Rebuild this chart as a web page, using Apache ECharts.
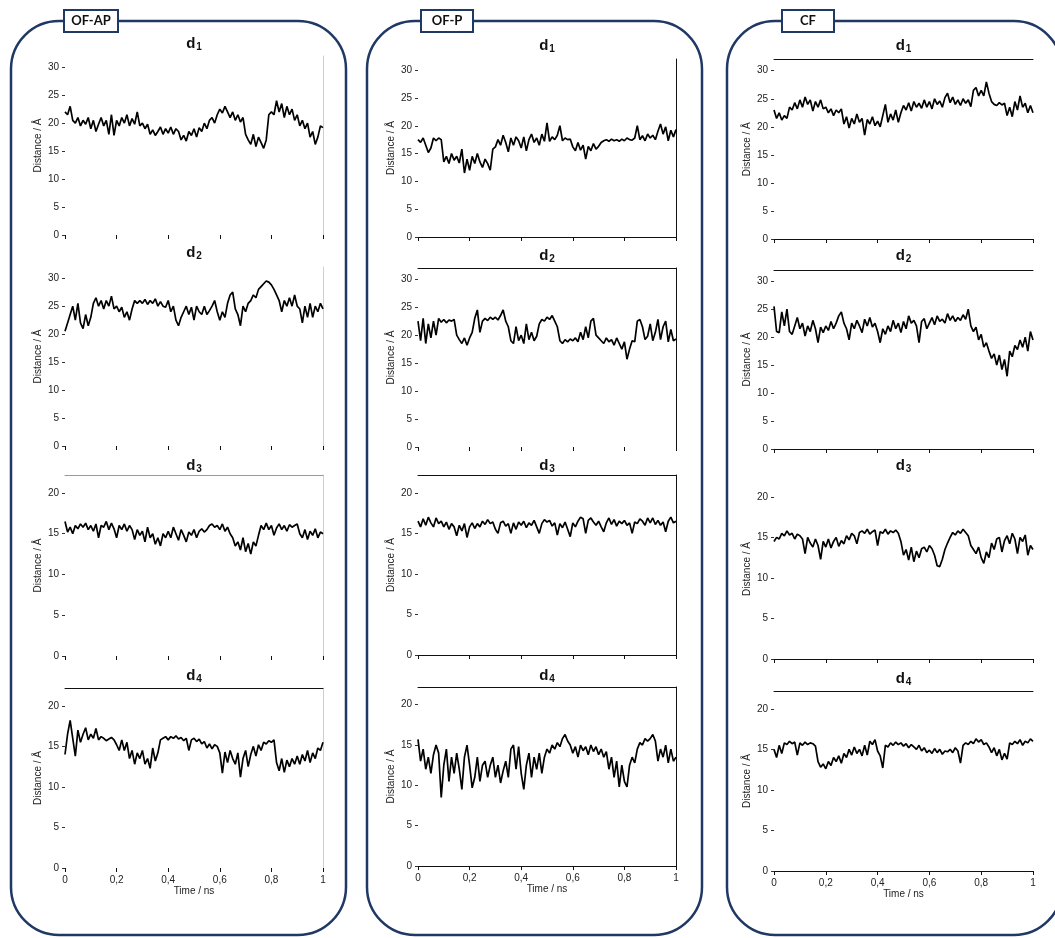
<!DOCTYPE html>
<html><head><meta charset="utf-8">
<script src="https://cdn.jsdelivr.net/npm/echarts@6/dist/echarts.min.js"></script>
<style>html,body{margin:0;padding:0;background:#fff}#c{width:1055px;height:938px}</style>
</head><body><div id="c"></div>
<script>
// ---- data (time in ns, distances in Å) ----
const TIME = Array.from({length: 101}, (_, i) => +(i / 100).toFixed(2));
const GROUPS = ['OF-AP', 'OF-P', 'CF'];
const PANEL_SUBS = ['1', '2', '3', '4'];
const X_TICKS = [0, 0.2, 0.4, 0.6, 0.8, 1];
const X_TICK_LABELS = ['0', '0,2', '0,4', '0,6', '0,8', '1'];
const Y_TICKS_30 = [0, 5, 10, 15, 20, 25, 30];
const Y_TICKS_20 = [0, 5, 10, 15, 20];

const OFAP_D1 = [22,21.5,23,20.5,20,21,19.5,20.5,19.8,21,
 19,20.5,18.5,19.8,21,19.5,20.5,18,21.5,17.8,
 20.5,19.5,21,20,21.5,19.5,20.8,19.8,22,19.5,
 20,19,19.8,18,18.8,17.8,18.5,19.3,18,19,
 18.2,19.3,18,19,18.5,17,17.8,16.8,18.5,17.8,
 19,17.5,19.2,18.5,20,19,20.5,21,20,21.5,
 22.5,21.8,23,22,21,22,20.5,21.5,20.2,21,
 18,17,16.2,18,15.8,17.5,16.5,15.5,17,21.5,
 22,21.5,24,22,23.5,21,23,21.5,22.5,20.5,
 21.5,19.5,20.5,19,20,17.5,18.5,16.2,17.5,19.5,19.2];
const OFAP_D2 = [20.5,22,23.5,25,22.5,25.5,22,21,23.5,21.5,
 23,25.5,26.5,25,26,24.5,26,25,26.8,24.5,
 25,24,24.8,23,24,22.5,24.5,26,25.5,26,
 25.5,26.2,25.3,26,25.5,26.3,25,25.8,25,24.8,
 26,24,25,22.5,21.5,23,24,25,23.5,24.8,
 22.5,25,24,23.5,25,23.5,24.2,25,26,24,
 22.5,24,23,25.5,27,27.5,24.5,23.5,21.5,25,
 24,25.5,26,27,26.5,28,28.5,29,29.5,29.3,
 28.8,28,27,26,24,26,25,26.5,25,27,
 25,24.5,22,25,23,25.5,23,25,24,25.5,24.5];
const OFAP_D3 = [16.5,15.2,15.8,15,16,15.6,16.2,15.8,16.3,15.5,
 16,15.3,16.2,14.5,16,15.8,16.5,15.5,16.3,15.6,
 14.5,16,15.5,16.2,15.3,16,15.5,14.3,15.5,14.8,
 15.3,14,15.8,14.5,15,13.7,14.5,13.5,15,14.5,
 15.3,14.5,15.8,15,14.2,15.5,14.8,14,15.2,14.8,
 15.5,14.5,15.3,15.6,15.2,15.5,16,16.2,15.8,16,
 15.5,16.2,15.3,15.8,15,14.5,13.5,14,13,14.5,
 12.8,13.8,12.5,14,13.5,14.8,16,15.5,16.3,15.5,
 16,14.8,15.7,16.2,15.5,16,15.3,16.1,15.8,16,
 16.2,15,14.5,15.5,14.3,15.3,14.8,15.6,14.5,15.2,15];
const OFAP_D4 = [14,16.5,18.2,16,13.8,17,15.5,16.5,17.3,15.8,
 16.5,16,17.2,15.8,16.2,16,15.7,15.9,16.1,15.8,
 15.2,14.5,15.8,14.5,15.5,13.5,14.5,12.8,14.2,13.5,
 14.5,12.8,13.5,12.3,14.8,13.2,14.2,15.8,16,16.2,
 15.8,16.2,16,16.3,15.9,16.1,15.7,16,14.5,15.8,
 16,15.6,15.9,15.3,15.6,14.8,15.3,14.7,15.2,15,
 14.2,11.7,14.3,13,14.5,13.5,12.8,14.2,11.2,13.5,
 14.5,12.5,14,15,13.8,15.2,14.5,15.5,15.3,15.7,
 15.5,15.8,13,12,13.5,11.8,13.3,12.5,13.5,12.8,
 13.8,12.8,14,13.2,14.5,13,14.2,13.5,14.8,14.5,15.5];

const OFP_D1 = [17.5,17,17.8,16.5,15.2,16,17.8,17.3,17.8,17.5,
 13.5,14.5,13.2,15,13.8,14.5,13.3,15.8,11.5,14,
 12,14.5,13.2,15,13.5,12.5,14,13.2,12,15.8,
 16.2,17.5,16.5,18.3,17,15.3,17.8,16.5,18,17.3,
 16,18,15.5,17.5,18.5,17,17.8,16.5,18.5,17.2,
 20.5,17.2,18,17.5,18.3,20,17.3,17.8,17.5,17.6,
 16.2,15.5,17,15.6,16.5,14,16.3,15.5,16.8,15.8,
 16.3,17,17.3,17.5,17.2,17.6,17.3,17.5,17.2,17.6,
 17.3,17.8,17.5,17.4,17.8,20,17.5,18.2,17.3,18.5,
 17.8,18.3,17.5,19,20.3,18.5,19.8,17.3,19.2,18,19.3];
const OFP_D2 = [22.5,19,23,18.5,22,19.5,22.5,20,23,22.3,
 22.8,22.2,22.7,22.5,22.8,20,19.2,18.5,19.5,18.2,
 19.5,20.5,23,24.5,20.5,22.5,23,22.6,23.2,22.8,
 23.2,22.7,23.5,24.5,22.5,21.5,19,18.5,21.5,19,
 20,18.5,22,19.2,20.5,19,19.8,22,22.8,22.5,
 23.2,22.8,23.5,22.5,21.5,19,18.5,19.2,18.8,19.3,
 19,19.5,18.8,20.5,19.2,21.5,19.5,22.5,23,20,
 19.5,19,18.5,19.5,18.8,19.2,18.2,19.5,18.5,17.5,
 18.8,15.7,17.5,19,18.8,22.5,22.8,21.5,19.2,19.8,
 22,19,20.5,22.8,19.2,21.5,22.5,18.8,21,19,19.3];
const OFP_D3 = [16.5,15.8,16.8,16,17,16.3,15.8,16.9,16.2,16.5,
 15.8,16.4,15.5,16.2,15.8,14.7,16,15.3,16.2,14.5,
 15.8,16.3,15.6,16.2,15.8,16.5,16.1,16.7,16.2,16.4,
 15.5,15,16.3,16.5,15.9,16.2,15,16.3,15.5,16.4,
 16,16.5,15.7,16.3,16,16.6,15.8,15,16.2,16.7,
 16.4,16.6,15.9,16.3,14.8,16.2,15.7,16.4,15.5,14.6,
 16.3,15.8,16.5,17,16.8,15,16.6,16.9,16.4,16,
 16.5,15.8,15.2,16.3,16.9,16.1,16.7,15.9,16.5,16.2,
 16.6,16,16.3,15,16.4,16.2,16.8,16.5,16,16.9,
 16.3,16.9,16.1,16.6,16,16.4,15.2,16.5,17,16.3,16.5];
const OFP_D4 = [15.7,13,14.5,12,13.5,11.5,13.8,15,14,8.5,
 12.5,14.5,10.5,13.5,11.5,14,12,9.5,13.5,15,
 12.5,9.7,11,13.5,10.5,12.5,13,11,12.5,13.5,
 11,12.5,10.3,11.8,13,11,14.5,15,12,14.8,
 11.5,9.5,12.5,14,11,13.5,12,14,11.5,13.5,
 14.5,14,15,14.5,15.3,14.8,15.8,16.3,15.5,15,
 14,14.8,13.5,15,14.3,14.8,13.8,15,14.2,14.8,
 13.8,14.5,13.5,14.2,12,13.5,11,13,9.8,12.5,
 10.5,9.8,12.5,13.5,12.8,14.5,15.3,15,15.8,15.5,
 15.8,16.3,15.5,13,14.5,13.5,15,12.8,14.5,13,13.5];

const CF_D1 = [23,21.5,22.5,21.2,22,21.5,23.5,23,24.3,23.2,
 24.8,23.5,25.3,24,24.8,22.8,24.5,23.5,24.8,23.2,
 23.5,22.5,23.2,22,23,22.5,23.2,20.5,21.8,19.8,
 21.5,20.5,22.3,20.8,21.5,18.5,21.3,20.5,21.8,20.2,
 21,20,22,24,20.8,22.3,21.2,23,20.8,22.5,
 23.8,23,24.3,22.8,24.5,23.5,24.2,23.3,24.8,23.5,
 24.5,23.2,25,24,24.6,23.5,25.2,26,24.3,25.3,
 24,24.8,23.8,25,24.2,24.8,23.6,26.5,27,25.5,
 26.5,25.5,28,26,24.5,24,23.8,24.3,23.9,24.2,
 22,23.5,21.8,24.5,23,25.5,23.5,24.2,22.5,23.8,22.5];
const CF_D2 = [25.5,21,20.8,24.5,22,25,21,20.5,22,23.5,
 21.5,22.5,20.2,22,21,23,21.5,19,21.8,20.8,
 22,21.2,22.8,21.5,22.5,23.8,24.5,22.5,21.5,19.5,
 22.5,21.5,23,22,20.8,23.2,22,23.5,21.8,22.5,
 21,19,21.5,20.5,22,21,23,21.5,22.5,20.8,
 22.8,21.5,23.8,22.5,23,22,19,22.8,23.3,21.5,
 22.5,23.5,22.2,23.8,22.8,23.2,22.5,24.2,23,23.8,
 22.8,23.5,23,24,23.2,25,22,21,21.8,19.5,
 20.5,18.2,19,17.5,16.2,17,15,16.8,14.2,16,
 13,17.5,16.5,18.5,17.8,19.5,18.2,20,17.5,21,19.5];
const CF_D3 = [14.5,15,14.8,15.5,15.2,15.8,15.3,15.5,14.8,15.4,
 15.2,14.8,13,15,14.3,13.8,14.8,14,12.3,14.5,
 13.8,14.8,13.7,14.5,15,13.9,14.6,14.2,15.2,14.7,
 15.5,15.2,14.2,15.6,15.8,15.5,16,15.4,15.7,15.9,
 14,15.7,15.5,16,15.4,15.8,15.6,15.9,15.5,14.5,
 12.8,13.5,12.2,13.8,12,13.3,12.5,13.6,13.8,13.2,
 14,13.6,12.8,11.5,11.4,12.3,13.5,14.3,15,15.6,
 15.3,15.8,15.5,16,15.6,15.2,14,13.5,13,13.8,
 12.5,11.8,13.2,12.5,14.3,13.5,14.8,15,13.2,14.6,
 15.2,14.2,15.5,14.8,13,15,14.5,15.3,12.8,14,13.5];
const CF_D4 = [15,14,15.5,14.5,15.8,15.6,16,15.7,15.9,14.3,
 15.8,15.5,15.9,15.6,15.8,15.7,15.4,13.5,12.8,13.2,
 12.6,13.5,13,14,13.5,14.2,13.3,14.5,14,15,
 14.3,15.3,14.5,15,14.2,15.5,14.3,16,15.6,16.2,
 14.8,14.2,12.7,15.5,15.3,15.8,15.5,15.9,15.6,15.8,
 15.4,15.7,15.2,15.6,15.3,15,15.5,14.8,15.2,14.6,
 14.9,14.5,15.1,14.6,15,14.4,14.8,14.7,15,14.6,
 15.2,14.8,13.3,15.5,15.8,15.6,16,15.7,16.3,15.9,
 16.2,15.6,15.8,15.3,14.6,15.2,14.2,15,13.7,14.5,
 13.8,15.8,15.6,16,15.7,16.2,15.5,16,15.8,16.3,16];

const SERIES = [
  [OFAP_D1, OFAP_D2, OFAP_D3, OFAP_D4],
  [OFP_D1, OFP_D2, OFP_D3, OFP_D4],
  [CF_D1, CF_D2, CF_D3, CF_D4]
];

// ---- layout ----
const COL_LEFT = [65, 418, 774];
const COL_WIDTH = [258, 258, 259];
const ROW_TOP = [[56, 267, 475, 688], [59, 268, 475, 687], [59.5, 270, 479, 691]];
const ROW_BOTTOM = [[235, 446, 656, 868], [237, 447, 655, 866], [239, 449, 659, 871]];
const Y_MAX = [32, 32, 22.2, 22.2];
const TITLE_Y = [[44, 253, 466, 676], [46, 256, 466, 676], [46, 256, 466, 679]];
const TOP_LINE = [[null, null, '#9a9a9a', '#111'], [null, '#111', '#111', '#111'], ['#111', '#111', null, '#111']];
const RIGHT_LINE = [['#cfcfcf', '#cfcfcf', '#cfcfcf', '#cfcfcf'], ['#111', '#111', '#111', '#111'], [null, null, null, null]];
const X_LINE = [[false, false, false, false], [true, false, true, true], [true, true, true, true]];
const BOX_X = [11, 367, 727];
const LABEL_BOX = [[64, 54], [421, 52], [782, 52]];
const NAVY = '#1f3864';
const FONT = '"Liberation Sans", Arial, sans-serif';

const grids = [], xAxes = [], yAxes = [], series = [], titles = [], xTop = [], yRight = [];
let k = 0;
for (let c = 0; c < 3; c++) {
  for (let r = 0; r < 4; r++) {
    const top = ROW_TOP[c][r], bottom = ROW_BOTTOM[c][r];
    grids.push({left: COL_LEFT[c], top: top, width: COL_WIDTH[c], height: bottom - top, show: false});
    const isBottom = r === 3;
    xAxes.push({
      type: 'value', gridIndex: k, min: 0, max: 1, interval: 0.2,
      axisLine: {show: X_LINE[c][r], onZero: false, lineStyle: {color: '#111', width: 1}},
      axisTick: {show: true, length: 4, lineStyle: {color: '#111', width: 1}},
      axisLabel: {show: isBottom, fontFamily: FONT, fontSize: 10, color: '#222', margin: 7,
        formatter: v => X_TICK_LABELS[Math.round(v / 0.2)]},
      splitLine: {show: false},
      name: isBottom ? 'Time / ns' : '', nameLocation: 'middle', nameGap: 15,
      nameTextStyle: {fontFamily: FONT, fontSize: 10, color: '#222'}
    });
    const yt = r < 2 ? Y_TICKS_30 : Y_TICKS_20;
    yAxes.push({
      type: 'value', gridIndex: k, min: 0, max: Y_MAX[r],
      axisLine: {show: false, onZero: false},
      axisTick: {show: true, length: 3, customValues: yt, lineStyle: {color: '#333'}},
      axisLabel: {fontFamily: FONT, fontSize: 10, color: '#222', margin: 6, customValues: yt},
      splitLine: {show: false},
      name: 'Distance / Å', nameLocation: 'middle', nameGap: 22,
      nameTextStyle: {fontFamily: FONT, fontSize: 10, color: '#222'}
    });
    xTop.push({
      type: 'value', gridIndex: k, position: 'top', min: 0, max: 1, show: !!TOP_LINE[c][r],
      axisLine: {show: !!TOP_LINE[c][r], onZero: false, lineStyle: {color: TOP_LINE[c][r] || '#000', width: 1}},
      axisTick: {show: false}, axisLabel: {show: false}, splitLine: {show: false}
    });
    yRight.push({
      type: 'value', gridIndex: k, position: 'right', min: 0, max: Y_MAX[r], show: !!RIGHT_LINE[c][r],
      axisLine: {show: !!RIGHT_LINE[c][r], onZero: false, lineStyle: {color: RIGHT_LINE[c][r] || '#000', width: 1}},
      axisTick: {show: false}, axisLabel: {show: false}, splitLine: {show: false}
    });
    const vals = SERIES[c][r];
    series.push({
      type: 'line', xAxisIndex: k, yAxisIndex: k, showSymbol: false, symbol: 'none',
      data: TIME.map((t, i) => [t, vals[i]]),
      lineStyle: {color: '#000', width: 1.7}, silent: true, animation: false
    });
    titles.push({
      text: '{a|d}{b|' + PANEL_SUBS[r] + '}',
      left: COL_LEFT[c] + COL_WIDTH[c] / 2, top: TITLE_Y[c][r] - 9, textAlign: 'center', padding: 0,
      textStyle: {rich: {
        a: {fontFamily: FONT, fontSize: 15, fontWeight: 'bold', color: '#111', lineHeight: 18},
        b: {fontFamily: FONT, fontSize: 10, fontWeight: 'bold', color: '#111', lineHeight: 12, padding: [7, 0, 0, 1]}
      }}
    });
    k++;
  }
}

const graphics = [];
for (let c = 0; c < 3; c++) {
  graphics.push({type: 'rect', z: 1, silent: true,
    shape: {x: BOX_X[c], y: 21, width: 335, height: 914, r: 48},
    style: {fill: 'none', stroke: NAVY, lineWidth: 2.5}});
  graphics.push({type: 'rect', z: 2, silent: true,
    shape: {x: LABEL_BOX[c][0], y: 10, width: LABEL_BOX[c][1], height: 22},
    style: {fill: '#fff', stroke: NAVY, lineWidth: 2}});
  graphics.push({type: 'text', z: 3, silent: true,
    x: LABEL_BOX[c][0] + LABEL_BOX[c][1] / 2, y: 21,
    style: {text: GROUPS[c], fill: '#111', font: 'bold 13px Lato, "Open Sans", sans-serif',
      textAlign: 'center', textVerticalAlign: 'middle'}});
}

const chart = echarts.init(document.getElementById('c'), null, {renderer: 'canvas'});
chart.setOption({
  animation: false,
  backgroundColor: '#fff',
  title: titles,
  grid: grids,
  xAxis: xAxes.concat(xTop),
  yAxis: yAxes.concat(yRight),
  series: series,
  graphic: graphics
});
</script></body></html>
